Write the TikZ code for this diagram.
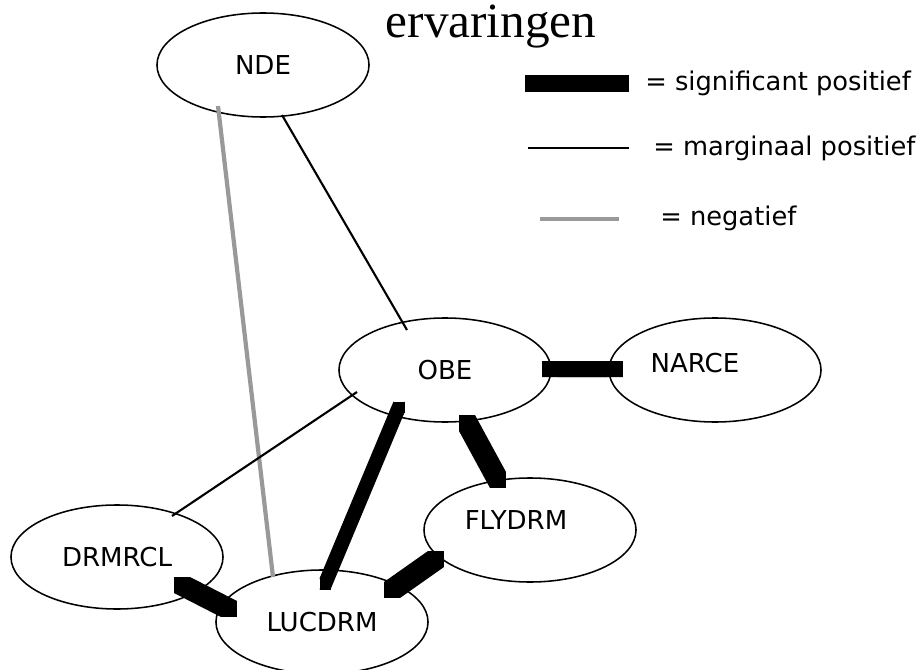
\documentclass[tikz,border=0pt]{standalone}
\usepackage{fontspec}
\setmainfont{Liberation Serif}
\setsansfont{DejaVu Sans}
\usetikzlibrary{shapes,calc}

% thick link drawn with a square pen: both end squares plus their diagonal sweeps
\newcommand{\sigbar}[5]{%
  \fill ($(#1.center)+(#2)$) +(-#5,-#5) rectangle +(#5,#5);
  \fill ($(#3.center)+(#4)$) +(-#5,-#5) rectangle +(#5,#5);
  \fill ($(#1.center)+(#2)+(-#5,-#5)$) -- ($(#3.center)+(#4)+(-#5,-#5)$) -- ($(#3.center)+(#4)+(#5,#5)$) -- ($(#1.center)+(#2)+(#5,#5)$) -- cycle;
  \fill ($(#1.center)+(#2)+(-#5,#5)$) -- ($(#3.center)+(#4)+(-#5,#5)$) -- ($(#3.center)+(#4)+(#5,-#5)$) -- ($(#1.center)+(#2)+(#5,-#5)$) -- cycle;
}

\begin{document}
\begin{tikzpicture}[x=0.025cm, y=-0.025cm,
    var/.style={ellipse, draw, line width=1.1pt, minimum width=5.3cm, minimum height=2.6cm, inner sep=0pt, font=\sffamily\fontsize{18.5}{21}\selectfont},
    lbl/.style={font=\sffamily\fontsize{18.5}{21}\selectfont, inner sep=0pt},
    leg/.style={font=\sffamily\fontsize{18.3}{22}\selectfont, inner sep=0pt, anchor=west},
    marg/.style={line width=1.5pt},
    neg/.style={line width=3pt, black!40}]
    \useasboundingbox (0,0) rectangle (922,670);

    \node [anchor=base, inner sep=0pt, font=\fontsize{35}{40}\selectfont] (title) at (491,38) {ervaringen};

    % variables
    \node [var] (nde) at (263,65) {NDE};
    \node [var] (obe) at (445,370) {OBE};
    \node [var, label={[lbl, xshift=-0.5cm, yshift=0.175cm]center:NARCE}] (narce) at (715,370) {};
    \node [var, label={[lbl, xshift=-0.35cm, yshift=0.25cm]center:FLYDRM}] (flydrm) at (530,530) {};
    \node [var] (drmrcl) at (117,557) {DRMRCL};
    \node [var] (lucdrm) at (322,622) {LUCDRM};

    % links
    \draw [marg] ([shift={(19,50)}]nde.center) -- ([shift={(-38,-40)}]obe.center);
    \draw [neg] ([shift={(-45,41)}]nde.center) -- ([shift={(-49,-45)}]lucdrm.center);
    \draw [marg] ([shift={(-88,22)}]obe.center) -- ([shift={(55,-41)}]drmrcl.center);
    \sigbar{obe}{105,-1}{narce}{-100,-1}{8}
    \sigbar{obe}{22,53}{flydrm}{-32,-50}{8}
    \sigbar{obe}{-46,37}{lucdrm}{3,-38}{5.5}
    \sigbar{drmrcl}{65,28}{lucdrm}{-93,-13}{8}
    \sigbar{lucdrm}{70,-32}{flydrm}{-94,29}{8}

    % legend
    \node [leg] (lsig) at (645,83) {= significant positief};
    \node [leg] (lmarg) at (653,148) {= marginaal positief};
    \node [leg] (lneg) at (660,218) {= negatief};
    \fill (525,75) rectangle (629,92);
    \draw [marg] (528,148) -- (629,148);
    \draw [neg] (540,219) -- (619,219);
\end{tikzpicture}
\end{document}
